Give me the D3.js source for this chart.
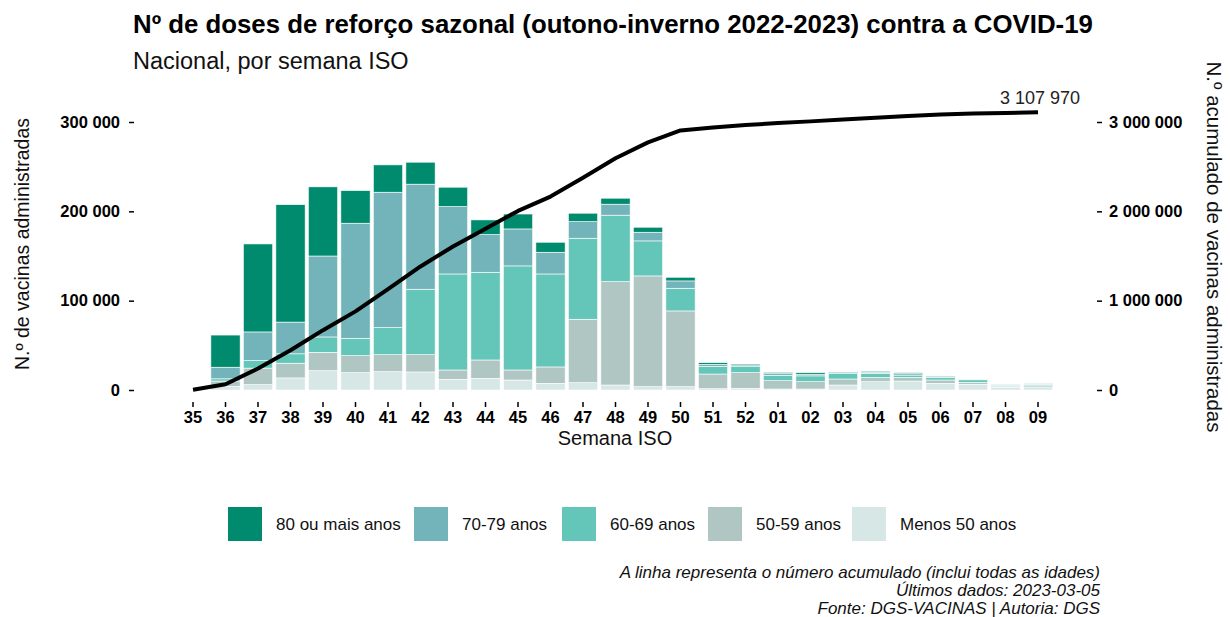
<!DOCTYPE html>
<html><head><meta charset="utf-8">
<script src="https://cdn.jsdelivr.net/npm/d3@7"></script>
<style>body{margin:0;background:#fff;} text{font-family:"Liberation Sans",Arial,sans-serif;}</style>
</head><body>
<svg id="chart" width="1230" height="617"></svg>
<script>
const weeks = ["35","36","37","38","39","40","41","42","43","44","45","46","47","48","49","50","51","52","01","02","03","04","05","06","07","08","09"];
const menos50 = [0,4000,6000,13500,21600,19400,20500,20200,12000,13100,11200,7500,8200,5600,3700,3700,1500,1900,1100,1100,5600,9300,10000,7500,6400,3000,3400];
const a5059 = [0,6000,18500,16500,20600,19000,19000,19300,10400,20500,11200,18300,71000,115700,124000,84800,16400,17500,9300,8200,6700,4700,4100,3700,2200,1300,1400];
const a6069 = [0,2500,8500,10500,17200,19500,30300,73300,107500,98200,116500,104100,90700,74400,39200,25400,8500,6700,6100,6500,6200,4700,2600,3000,2800,1100,1600];
const a7079 = [0,13000,32000,35500,90600,128800,151600,117600,75400,42200,41400,24300,18600,12300,9700,8200,2400,1900,2000,1900,1000,1000,1700,900,400,300,400];
const a80 = [0,36000,98500,131500,77400,36500,30600,24600,21700,16400,16700,11200,9400,6700,5600,4100,1800,1100,1200,1700,700,1200,1000,600,200,200,200];
const cumulative = [3000,64000,240000,445000,670000,880000,1130000,1383000,1607000,1805000,2005000,2165000,2375000,2595000,2772000,2905000,2938000,2967000,2988000,3007000,3027000,3048000,3068000,3083000,3095000,3101000,3107970];
const groupNames = ["Menos 50 anos","50-59 anos","60-69 anos","70-79 anos","80 ou mais anos"];
const groupColors = ["#d6e7e5","#b0c6c2","#63c6b9","#72b4b9","#008b6e"];
const leftTicks = [0,100000,200000,300000];
const rightTicks = [0,1000000,2000000,3000000];

const fmt = v => d3.format(",")(v).replace(/,/g," ");
const svg = d3.select("#chart");
const FF = "'Liberation Sans Narrow','Liberation Sans',Arial,sans-serif";

const x = d3.scaleBand().domain(weeks).range([176.75,1054.25]).paddingInner(0.1).paddingOuter(0.05);
const y = d3.scaleLinear().domain([0,300000]).range([390,122]);
const y2 = d3.scaleLinear().domain([0,3000000]).range([390,122]);

const series = [menos50,a5059,a6069,a7079,a80];
const rows = weeks.map((w,i)=>{const r={week:w}; groupNames.forEach((g,k)=>r[g]=series[k][i]); return r;});
const stacked = d3.stack().keys(groupNames)(rows);

svg.append("g").selectAll("g").data(stacked).join("g")
  .attr("fill",(d,i)=>groupColors[i])
  .selectAll("rect").data(d=>d).join("rect")
  .attr("x",d=>x(d.data.week)).attr("width",x.bandwidth())
  .attr("y",d=>y(d[1])).attr("height",d=>Math.max(0,y(d[0])-y(d[1])))
  .attr("stroke","#ffffff").attr("stroke-width",0.6);

// line
const line = d3.line().x((d,i)=>x(weeks[i])+x.bandwidth()/2).y(d=>y2(d));
svg.append("path").datum(cumulative).attr("d",line).attr("fill","none").attr("stroke","#000").attr("stroke-width",4).attr("stroke-linejoin","round");
svg.append("text").attr("x",x(weeks[26])+x.bandwidth()/2+42).attr("y",y2(cumulative[26])-8)
  .attr("text-anchor","end").attr("font-size",18).attr("fill","#222").text(fmt(cumulative[26]));

// left axis
const la = svg.append("g").attr("transform","translate(134,0)")
  .call(d3.axisLeft(y).tickValues(leftTicks).tickFormat(fmt).tickSize(5).tickPadding(9));
la.select(".domain").remove();
la.selectAll("line").attr("stroke","#000").attr("stroke-width",1.5);
la.selectAll("text").attr("font-size",16.5).attr("font-weight","bold").attr("fill","#000").style("font-family",FF);

// right axis
const ra = svg.append("g").attr("transform","translate(1097,0)")
  .call(d3.axisRight(y2).tickValues(rightTicks).tickFormat(fmt).tickSize(5).tickPadding(7));
ra.select(".domain").remove();
ra.selectAll("line").attr("stroke","#000").attr("stroke-width",1.5);
ra.selectAll("text").attr("font-size",16.5).attr("font-weight","bold").attr("fill","#000").style("font-family",FF);

// x axis
const xa = svg.append("g").attr("transform","translate(0,402)")
  .call(d3.axisBottom(x).tickSize(5).tickPadding(4));
xa.select(".domain").remove();
xa.selectAll("line").attr("stroke","#000").attr("stroke-width",1.5);
xa.selectAll("text").attr("font-size",16.5).attr("font-weight","bold").attr("fill","#000").style("font-family",FF);

// titles
svg.append("text").attr("x",133).attr("y",33).attr("font-size",25.8).attr("font-weight","bold").attr("fill","#000")
  .text("Nº de doses de reforço sazonal (outono-inverno 2022-2023) contra a COVID-19");
svg.append("text").attr("x",133).attr("y",69).attr("font-size",23.5).attr("fill","#111").text("Nacional, por semana ISO");
svg.append("text").attr("x",615).attr("y",445).attr("text-anchor","middle").attr("font-size",20).attr("fill","#111").text("Semana ISO");
svg.append("text").attr("transform","translate(29,244) rotate(-90)").attr("text-anchor","middle").attr("font-size",19.5).attr("fill","#111").text("N.º de vacinas administradas");
svg.append("text").attr("transform","translate(1207,247) rotate(90)").attr("text-anchor","middle").attr("font-size",20.5).attr("fill","#111").text("N.º acumulado de vacinas administradas");

// legend
const legendOrder = [4,3,2,1,0];
const legendX = [228,414,562,708,852];
const lg = svg.append("g");
legendOrder.forEach((k,i)=>{
  lg.append("rect").attr("x",legendX[i]).attr("y",507).attr("width",34).attr("height",34).attr("fill",groupColors[k]);
  lg.append("text").attr("x",legendX[i]+48).attr("y",530).attr("font-size",17).attr("fill","#111").text(groupNames[k]);
});

// footnotes
const notes = ["A linha representa o número acumulado (inclui todas as idades)","Últimos dados: 2023-03-05","Fonte: DGS-VACINAS | Autoria: DGS"];
notes.forEach((t,i)=>svg.append("text").attr("x",1100).attr("y",578+i*18).attr("text-anchor","end")
  .attr("font-size",17).attr("font-style","italic").attr("fill","#111").text(t));
</script>
</body></html>
